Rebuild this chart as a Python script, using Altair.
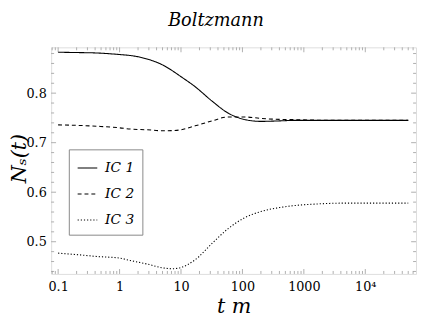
import altair as alt
import pandas as pd

# ---- data ----
t_vals = [0.1, 0.2, 0.45, 1, 1.5, 2.8, 5.2, 7.5, 9.3, 17, 32, 58, 107, 200, 400, 700, 1500, 5000, 50000]
ic1 = [0.8826, 0.882, 0.881, 0.878, 0.876, 0.869, 0.856, 0.844, 0.836, 0.813, 0.784, 0.760, 0.747, 0.743, 0.744, 0.745, 0.745, 0.745, 0.745]
ic2 = [0.736, 0.735, 0.733, 0.730, 0.7275, 0.726, 0.724, 0.7245, 0.7255, 0.734, 0.744, 0.752, 0.752, 0.749, 0.747, 0.7465, 0.7455, 0.745, 0.745]
ic3 = [0.477, 0.474, 0.470, 0.467, 0.462, 0.455, 0.447, 0.4455, 0.447, 0.4636, 0.4966, 0.526, 0.548, 0.561, 0.569, 0.573, 0.576, 0.578, 0.578]
series_names = ["IC 1", "IC 2", "IC 3"]

x_major = [0.1, 1, 10, 100, 1000, 10000]
x_minor = [k * 10 ** d for d in range(-2, 5) for k in range(2, 10)]
y_major = [0.5, 0.6, 0.7, 0.8]
y_minor = [0.44, 0.46, 0.48, 0.52, 0.54, 0.56, 0.58, 0.62, 0.64, 0.66, 0.68,
           0.72, 0.74, 0.76, 0.78, 0.82, 0.84, 0.86, 0.88]

X_DOMAIN = [0.077, 67000]
Y_DOMAIN = [0.435, 0.8925]
W, H = 372, 231
FONT = "DejaVu Serif"
FRAME = "#9a9a9a"

rows = []
for name, vals in zip(series_names, [ic1, ic2, ic3]):
    for t, v in zip(t_vals, vals):
        rows.append({"t": t, "N": v, "series": name})
df = pd.DataFrame(rows)

xs = alt.Scale(type="log", domain=X_DOMAIN, nice=False)
ys = alt.Scale(domain=Y_DOMAIN, nice=False, zero=False)

lines = alt.Chart(df).mark_line(color="black", strokeWidth=1.1, interpolate="monotone").encode(
    x=alt.X("t:Q", scale=xs,
            axis=alt.Axis(values=x_major, title="t m", grid=False, ticks=False, tickSize=0,
                          domain=False, labelFont=FONT, labelFontSize=13, labelColor="black",
                          labelPadding=7, labelFlush=False,
                          labelExpr="datum.value >= 10000 ? '10⁴' : datum.value < 1 ? '0.1' : format(datum.value, 'd')",
                          titleFont=FONT, titleFontSize=21, titleFontStyle="italic",
                          titleFontWeight="normal", titleColor="black",
                          titleX=W / 2, titleY=39, titleBaseline="alphabetic", titleAlign="center")),
    y=alt.Y("N:Q", scale=ys,
            axis=alt.Axis(values=y_major, format=".1f", title="Nₛ(t)", grid=False, ticks=False,
                          tickSize=0, domain=False, labelFont=FONT, labelFontSize=13,
                          labelColor="black", labelPadding=5, labelFlush=False,
                          titleFont=FONT, titleFontSize=21, titleFontStyle="italic",
                          titleFontWeight="normal", titleColor="black", titleAngle=-90,
                          titleX=-26, titleY=113, titleBaseline="alphabetic", titleAlign="center")),
    strokeDash=alt.StrokeDash("series:N",
                              scale=alt.Scale(domain=series_names, range=[[1, 0], [4, 3], [1.2, 2]]),
                              legend=alt.Legend(title=None, orient="none", legendX=18, legendY=104,
                                                symbolType="stroke", symbolSize=400,
                                                symbolStrokeWidth=1.1, symbolStrokeColor="black",
                                                labelFont=FONT, labelFontSize=14, labelFontStyle="italic",
                                                labelColor="black", labelOffset=7, rowPadding=8.5,
                                                padding=8, strokeColor="#888888", fillColor="white")),
)

def xticks(values, length, top):
    d = pd.DataFrame({"v": [v for v in values if X_DOMAIN[0] <= v <= X_DOMAIN[1]]})
    if top:
        yy, yy2 = alt.value(0), alt.value(length)
    else:
        yy, yy2 = alt.value(H), alt.value(H - length)
    return alt.Chart(d).mark_rule(color=FRAME, strokeWidth=0.8).encode(
        x=alt.X("v:Q", scale=xs), y=yy, y2=yy2)

def yticks(values, length, right):
    d = pd.DataFrame({"v": values})
    if right:
        xx, xx2 = alt.value(W), alt.value(W - length)
    else:
        xx, xx2 = alt.value(0), alt.value(length)
    return alt.Chart(d).mark_rule(color=FRAME, strokeWidth=0.8).encode(
        y=alt.Y("v:Q", scale=ys), x=xx, x2=xx2)

tick_layers = [
    xticks(x_major, 5, False), xticks(x_major, 5, True),
    xticks(x_minor, 3, False), xticks(x_minor, 3, True),
    yticks(y_major, 5, False), yticks(y_major, 5, True),
    yticks(y_minor, 3, False), yticks(y_minor, 3, True),
]

chart = alt.layer(*tick_layers, lines).properties(
    width=W, height=H,
    autosize=alt.AutoSizeParams(type="none"),
    padding={"left": 44, "top": 37, "right": 2, "bottom": 51},
    title=alt.TitleParams("Boltzmann", font=FONT, fontSize=18, fontStyle="italic",
                          fontWeight="normal", color="black", anchor="middle", dx=-18, offset=17),
).configure_view(stroke=FRAME, strokeWidth=1).configure(background="white")

chart.save("out.html", embed_options={"renderer": "svg", "actions": False})
